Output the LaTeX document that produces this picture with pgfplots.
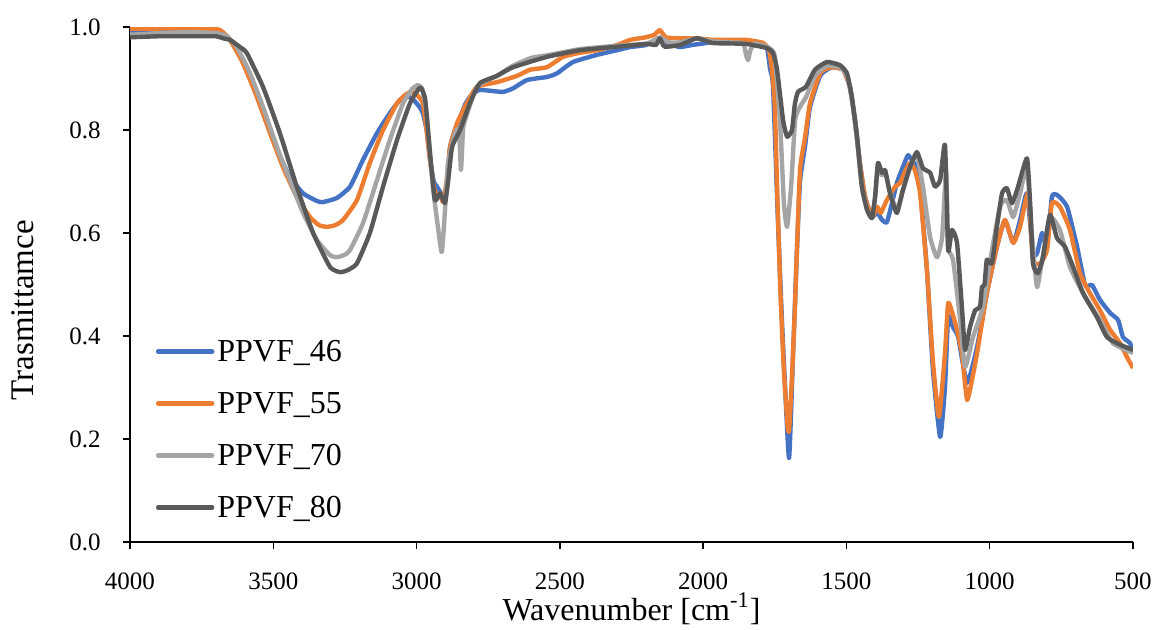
\documentclass[border=0pt]{standalone}
\usepackage{fontspec}
\setmainfont{Liberation Serif}
\usepackage{pgfplots}
\pgfplotsset{compat=1.18}

\definecolor{cA}{HTML}{4472C4}
\definecolor{cB}{HTML}{ED7D31}
\definecolor{cC}{HTML}{A5A5A5}
\definecolor{cD}{HTML}{595959}

\begin{document}
\begin{tikzpicture}
\path[use as bounding box] (-65pt,-43.5pt) rectangle (512.5pt,271pt);
\begin{axis}[
  at={(0,0)}, anchor=south west,
  scale only axis, width=501.5pt, height=257.5pt,
  xmin=500, xmax=4000, ymin=0, ymax=1,
  x dir=reverse,
  axis x line*=bottom, axis y line*=left,
  xtick={500,1000,1500,2000,2500,3000,3500,4000},
  ytick={0,0.2,0.4,0.6,0.8,1},
  tick align=outside, major tick length=3.5pt,
  tick style={black, line width=0.75pt},
  axis line style={black, line width=0.75pt},
  /pgf/number format/assume math mode=true,
  xticklabel style={font=\fontsize{12.5}{15}\selectfont, /pgf/number format/1000 sep={}, anchor=north, inner sep=0pt, yshift=-11.5pt},
  yticklabel style={font=\fontsize{12.5}{15}\selectfont, /pgf/number format/fixed, /pgf/number format/fixed zerofill, /pgf/number format/precision=1, anchor=east, inner sep=0pt, xshift=-11pt},
  xlabel={Wavenumber [cm\textsuperscript{-1}]},
  ylabel={Trasmittamce},
  xlabel style={font=\fontsize{16}{19}\selectfont, at={(axis description cs:0.5,-0.1515)}, anchor=base},
  ylabel style={font=\fontsize{16.5}{19}\selectfont, at={(axis description cs:-0.0967,0.45)}, rotate=0, anchor=base},
  legend cell align=left,
  legend style={at={(axis description cs:0.0259,0.402)}, anchor=north west, draw=none, fill=none,
    inner sep=0pt, outer sep=0pt, row sep=9.5pt, font=\fontsize{16}{19}\selectfont,
    nodes={inner sep=0pt, text height=13.5pt, text depth=3pt},
    /tikz/every odd column/.style={column sep=1.5pt}},
  legend image code/.code={\draw[#1, line cap=round] (0pt,0pt) -- (27pt,0pt);},
  every axis plot/.append style={line width=2.2pt, line join=round, smooth, tension=0.3},
]
% PPVF_46
\addplot[cA] coordinates {
(4000,0.988) (3900,0.99) (3800,0.99) (3700,0.988) (3662,0.982) (3627,0.955) (3581,0.903) (3536,0.833)
(3487,0.761) (3442,0.709) (3396,0.677) (3347,0.662) (3327,0.660) (3278,0.668) (3232,0.690) (3187,0.742)
(3138,0.794) (3093,0.833) (3058,0.858) (3033,0.866) (3010,0.858) (2990,0.845) (2978,0.833) (2965,0.80)
(2953,0.742) (2940,0.70) (2929,0.690) (2918,0.680) (2905,0.670) (2895,0.690) (2883,0.767) (2866,0.800)
(2848,0.825) (2830,0.85) (2814,0.864) (2795,0.874) (2779,0.878) (2740,0.876) (2698,0.874) (2663,0.881)
(2615,0.897) (2545,0.903) (2510,0.910) (2454,0.932) (2370,0.946) (2300,0.955) (2255,0.961) (2200,0.965)
(2151,0.978) (2120,0.968) (2081,0.961) (2040,0.965) (2000,0.968) (1950,0.972) (1900,0.970) (1847,0.970)
(1800,0.965) (1777,0.959) (1766,0.917) (1756,0.884) (1739,0.625) (1725,0.431) (1714,0.301) (1700,0.163)
(1686,0.367) (1673,0.561) (1662,0.70) (1644,0.77) (1627,0.845) (1592,0.905) (1565,0.918) (1547,0.922)
(1512,0.917) (1488,0.884) (1470,0.819) (1453,0.736) (1435,0.670) (1411,0.631) (1393,0.640) (1375,0.625)
(1359,0.621) (1341,0.658) (1324,0.697) (1303,0.728) (1285,0.751) (1270,0.74) (1254,0.728) (1243,0.690)
(1219,0.528) (1198,0.334) (1173,0.204) (1156,0.301) (1145,0.437) (1128,0.417) (1110,0.398) (1079,0.309)
(1044,0.379) (1010,0.483) (975,0.573) (947,0.625) (918,0.581) (894,0.625) (870,0.677) (849,0.561)
(835,0.56) (817,0.600) (800,0.573) (783,0.670) (765,0.674) (730,0.651) (695,0.573) (667,0.499)
(643,0.499) (615,0.470) (580,0.445) (552,0.431) (535,0.398) (510,0.386) (500,0.367)
};
\addlegendentry{PPVF\_46}
% PPVF_55
\addplot[cB] coordinates {
(4000,0.997) (3900,0.997) (3800,0.997) (3700,0.996) (3680,0.992) (3651,0.975) (3606,0.930) (3557,0.864)
(3511,0.794) (3466,0.728) (3418,0.670) (3372,0.631) (3340,0.615) (3313,0.612) (3285,0.615) (3257,0.625)
(3208,0.664) (3163,0.736) (3117,0.800) (3068,0.852) (3035,0.870) (3015,0.874) (2995,0.866) (2978,0.852)
(2965,0.80) (2953,0.742) (2940,0.69) (2929,0.670) (2918,0.677) (2908,0.660) (2895,0.70) (2883,0.767)
(2859,0.813) (2840,0.835) (2824,0.852) (2789,0.884) (2719,0.893) (2650,0.905) (2604,0.917) (2545,0.922)
(2489,0.942) (2430,0.950) (2370,0.955) (2300,0.965) (2255,0.975) (2200,0.980) (2170,0.985) (2151,0.994)
(2130,0.980) (2081,0.978) (2022,0.978) (1966,0.975) (1900,0.975) (1847,0.975) (1791,0.969) (1770,0.955)
(1760,0.917) (1750,0.85) (1742,0.690) (1730,0.48) (1718,0.33) (1705,0.225) (1700,0.217) (1690,0.32)
(1680,0.45) (1673,0.561) (1662,0.722) (1644,0.787) (1627,0.852) (1592,0.910) (1565,0.920) (1547,0.922)
(1512,0.917) (1488,0.884) (1470,0.819) (1453,0.736) (1435,0.670) (1411,0.631) (1393,0.651) (1380,0.639)
(1359,0.664) (1330,0.690) (1313,0.697) (1295,0.72) (1278,0.736) (1261,0.722) (1243,0.677) (1219,0.528)
(1198,0.35) (1177,0.243) (1156,0.367) (1145,0.464) (1128,0.44) (1114,0.412) (1097,0.367) (1079,0.276)
(1060,0.32) (1044,0.367) (1010,0.483) (975,0.573) (947,0.625) (918,0.581) (894,0.612) (866,0.677)
(849,0.548) (824,0.541) (800,0.567) (783,0.658) (755,0.651) (720,0.606) (685,0.522) (650,0.483)
(615,0.450) (580,0.412) (545,0.386) (521,0.359) (500,0.338)
};
\addlegendentry{PPVF\_55}
% PPVF_70
\addplot[cC] coordinates {
(4000,0.985) (3900,0.988) (3800,0.99) (3700,0.988) (3662,0.982) (3627,0.961) (3581,0.910) (3536,0.845)
(3487,0.767) (3442,0.703) (3396,0.639) (3347,0.586) (3302,0.557) (3278,0.553) (3250,0.558) (3232,0.567)
(3187,0.619) (3138,0.703) (3093,0.781) (3047,0.852) (3015,0.880) (2995,0.887) (2980,0.880) (2965,0.83)
(2943,0.690) (2925,0.61) (2912,0.563) (2900,0.65) (2890,0.736) (2866,0.794) (2852,0.80) (2845,0.722)
(2838,0.80) (2831,0.819) (2789,0.884) (2720,0.905) (2663,0.925) (2600,0.94) (2545,0.945) (2430,0.957)
(2314,0.963) (2196,0.968) (2151,0.980) (2120,0.970) (2081,0.970) (2022,0.978) (1966,0.972) (1900,0.970)
(1860,0.968) (1850,0.945) (1843,0.936) (1835,0.955) (1820,0.968) (1777,0.962) (1760,0.955) (1749,0.940)
(1732,0.819) (1718,0.658) (1707,0.612) (1693,0.690) (1679,0.819) (1662,0.845) (1641,0.864) (1610,0.905)
(1568,0.925) (1523,0.922) (1498,0.905) (1481,0.86) (1463,0.78) (1446,0.69) (1428,0.645) (1411,0.632)
(1400,0.67) (1390,0.725) (1376,0.712) (1365,0.72) (1348,0.68) (1324,0.645) (1303,0.683) (1278,0.728)
(1254,0.752) (1233,0.690) (1208,0.592) (1184,0.553) (1166,0.592) (1152,0.722) (1145,0.573) (1128,0.548)
(1103,0.431) (1086,0.340) (1058,0.398) (1024,0.456) (1000,0.541) (964,0.651) (940,0.664) (918,0.631)
(894,0.677) (870,0.728) (852,0.592) (835,0.495) (817,0.548) (790,0.631) (755,0.606) (720,0.534)
(674,0.483) (615,0.431) (570,0.386) (500,0.367)
};
\addlegendentry{PPVF\_70}
% PPVF_80
\addplot[cD] coordinates {
(4000,0.980) (3900,0.982) (3800,0.982) (3700,0.982) (3675,0.978) (3651,0.975) (3616,0.961) (3592,0.949)
(3536,0.884) (3477,0.794) (3418,0.690) (3361,0.600) (3302,0.534) (3267,0.524) (3240,0.528) (3208,0.541)
(3163,0.600) (3117,0.690) (3068,0.781) (3023,0.852) (2995,0.878) (2985,0.882) (2970,0.86) (2953,0.755)
(2936,0.664) (2918,0.677) (2901,0.658) (2890,0.70) (2876,0.767) (2848,0.800) (2814,0.852) (2779,0.891)
(2720,0.905) (2663,0.922) (2545,0.942) (2430,0.955) (2314,0.961) (2196,0.967) (2165,0.965) (2151,0.978)
(2135,0.962) (2081,0.965) (2022,0.978) (1966,0.969) (1900,0.968) (1847,0.967) (1777,0.959) (1756,0.949)
(1742,0.917) (1721,0.819) (1707,0.787) (1690,0.800) (1680,0.850) (1669,0.874) (1641,0.884) (1610,0.917)
(1568,0.932) (1523,0.926) (1498,0.910) (1481,0.864) (1463,0.787) (1446,0.690) (1428,0.645) (1411,0.629)
(1400,0.670) (1390,0.736) (1376,0.717) (1365,0.722) (1348,0.677) (1324,0.639) (1303,0.683) (1278,0.728)
(1254,0.757) (1233,0.726) (1208,0.717) (1191,0.690) (1173,0.703) (1156,0.771) (1145,0.567) (1132,0.606)
(1114,0.581) (1097,0.456) (1086,0.373) (1069,0.417) (1051,0.450) (1034,0.456) (1027,0.495) (1018,0.50)
(1010,0.548) (992,0.541) (975,0.612) (957,0.677) (940,0.687) (922,0.658) (901,0.690) (870,0.745)
(859,0.658) (849,0.541) (832,0.522) (814,0.553) (790,0.635) (765,0.590) (737,0.573) (709,0.534)
(674,0.483) (626,0.437) (591,0.398) (545,0.383) (500,0.373)
};
\addlegendentry{PPVF\_80}
\end{axis}
\end{tikzpicture}
\end{document}
